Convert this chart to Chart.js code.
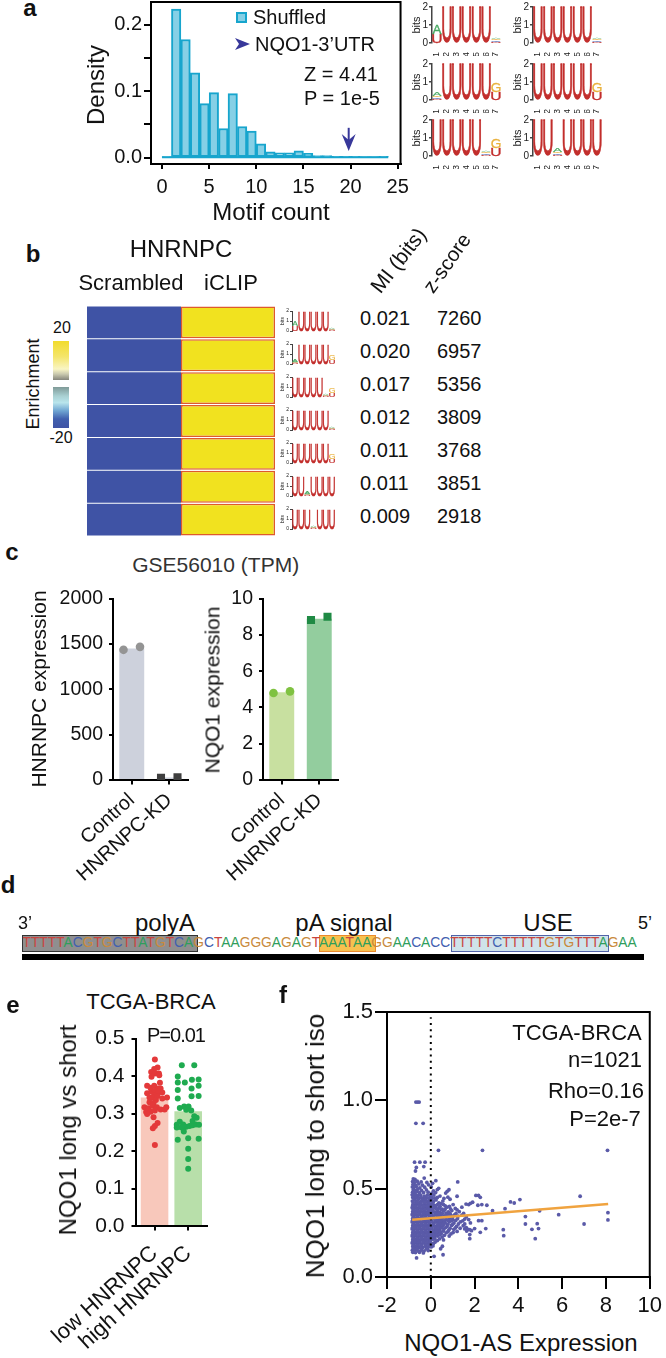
<!DOCTYPE html>
<html>
<head>
<meta charset="utf-8">
<title>NQO1 HNRNPC figure</title>
<script src="https://cdn.jsdelivr.net/npm/chart.js@4"></script>
<style>
  html, body { margin: 0; background: #fff; }
  #fig { position: relative; width: 666px; height: 1358px; overflow: hidden; font-family: "Liberation Sans", Arial, sans-serif; color: #111; }
  #fig canvas { position: absolute; }
  #fig div, #fig svg { position: absolute; }
  .t { white-space: nowrap; line-height: 1; }
</style>
</head>
<body>
<div id="fig"></div>
<script>
// ---- panel a: shuffled motif counts
const motifBins = [0.5, 1.5, 2.5, 3.5, 4.5, 5.5, 6.5, 7.5, 8.5, 9.5, 10.5, 11.5, 12.5, 13.5, 14.5, 15.5, 16.5, 17.5, 18.5, 19.5, 20.5, 21.5, 22.5, 23.5];
const motifDensity = [0.0005, 0.224, 0.178, 0.128, 0.0815, 0.098, 0.044, 0.0966, 0.047, 0.04, 0.021, 0.009, 0.0075, 0.0075, 0.0105, 0.0065, 0.003, 0.003, 0.002, 0.002, 0.002, 0.0007, 0.0007, 0.002];
const motifBaseline = [[0, 0.0005], [24, 0.0005]];
const motifXTicks = [0, 5, 10, 15, 20, 25];
const motifYTicks = [0, 0.05, 0.1, 0.15, 0.2];
const motifYLabels = ["0.0", "", "0.1", "", "0.2"];
const nqo1MotifCount = 19.8;

// ---- sequence logos (letter, bits), bottom to top
const uu = [["U", 1.95]];
const low = [["U", 0.07], ["C", 0.07], ["G", 0.07], ["A", 0.08]];
const lowGreen = [["U", 0.07], ["C", 0.07], ["G", 0.08], ["A", 0.2]];
const ua = [["U", 0.52], ["A", 0.5]];
const ug = [["U", 0.42], ["G", 0.5]];
const logoPositions = ["1", "2", "3", "4", "5", "6", "7"];
const motif1 = [ua, uu, uu, uu, uu, uu, low];
const motif2 = [lowGreen, uu, uu, uu, uu, uu, ug];
const motif3 = [uu, uu, uu, uu, uu, low, ug];
const motif4 = [uu, uu, uu, uu, uu, uu, low];
const motif5 = [uu, uu, uu, uu, uu, uu, ug];
const motif6 = [uu, uu, lowGreen, uu, uu, uu, uu];
const motif7 = [uu, uu, uu, low, uu, uu, uu];

// ---- panel b: heatmap
const heatRows = ["motif1", "motif2", "motif3", "motif4", "motif5", "motif6", "motif7"];
const enrichScrambled = [-20, -20, -20, -20, -20, -20, -20];
const enrichIclip = [20, 20, 20, 20, 20, 20, 20];
const miBits = ["0.021", "0.020", "0.017", "0.012", "0.011", "0.011", "0.009"];
const zScores = ["7260", "6957", "5356", "3809", "3768", "3851", "2918"];

// ---- panel c: GSE56010
const kdGroups = ["Control", "HNRNPC-KD"];
const replicateX = [-0.22, 0.22];
const hnrnpcMeans = [1450, 28];
const hnrnpcControl = [1436, 1469];
const hnrnpcKd = [25, 30];
const hnrnpcTicks = [0, 500, 1000, 1500, 2000];
const nqo1Means = [4.84, 8.9];
const nqo1Control = [4.8, 4.89];
const nqo1Kd = [8.82, 9.0];
const nqo1Ticks = [0, 2, 4, 6, 8, 10];

// ---- panel d: 3'UTR sequence
const seqPolyA = "TTTTTACGTGCTTATGTCA";
const seqLinker1 = "GCTAAGGGAGAGT";
const seqSignal = "AAATAA";
const seqLinker2 = "GGAACACC";
const seqUse = "TTTTTCTTTTTGTGTTT";
const seqTail = "AGAA";

// ---- panel e: TCGA-BRCA long vs short
const brcaGroups = ["low HNRNPC", "high HNRNPC"];
const brcaMeans = [0.343, 0.306];
const brcaTicks = [0, 0.1, 0.2, 0.3, 0.4, 0.5];
const lowValues = [0.444, 0.423, 0.419, 0.411, 0.407, 0.407, 0.398, 0.402, 0.382, 0.374, 0.369, 0.374, 0.367, 0.367, 0.354, 0.358, 0.361, 0.356, 0.356, 0.349, 0.343, 0.343, 0.347, 0.34, 0.343, 0.336, 0.33, 0.328, 0.317, 0.314, 0.321, 0.317, 0.311, 0.311, 0.317, 0.304, 0.305, 0.308, 0.299, 0.29, 0.275, 0.267, 0.261, 0.216];
const lowSwarm = [0.01, 0.09, -0.01, -0.1, 0.01, 0.13, -0.09, 0.14, 0.16, -0.22, -0.12, -0.01, 0.1, 0.18, -0.22, -0.1, 0.01, 0.23, 0.1, -0.01, -0.15, -0.06, 0.09, 0.23, 0.37, 0.04, -0.15, -0.03, -0.3, -0.18, -0.06, 0.07, 0.18, 0.3, 0.35, -0.25, -0.12, 0.01, -0.22, -0.03, 0.09, 0.01, -0.05, 0.01];
const highValues = [0.429, 0.429, 0.399, 0.383, 0.383, 0.39, 0.391, 0.363, 0.367, 0.374, 0.34, 0.346, 0.347, 0.319, 0.319, 0.315, 0.31, 0.308, 0.293, 0.289, 0.278, 0.27, 0.271, 0.265, 0.267, 0.269, 0.271, 0.27, 0.263, 0.263, 0.28, 0.252, 0.23, 0.234, 0.233, 0.206, 0.179, 0.153];
const highSwarm = [-0.19, 0.18, -0.31, -0.31, -0.1, 0.11, 0.31, -0.31, 0.1, 0.31, -0.31, 0.1, 0.31, -0.12, 0.01, -0.25, -0.06, 0.09, 0.18, 0.25, -0.25, -0.34, -0.15, -0.06, 0.04, 0.13, 0.23, 0.32, -0.2, -0.34, 0.13, -0.13, -0.31, 0, 0.31, 0, 0, 0];

// ---- panel f: NQO1-AS expression vs long/short ratio, read point by point
const isoXTicks = [-2, 0, 2, 4, 6, 8, 10];
const isoYTicks = [0, 0.5, 1, 1.5];
const isoFit = [[-0.85, 0.3245], [8.1, 0.413]];
const isoZero = [[0, 0], [0, 1.47]];
const isoOutliers = [[-0.68, 0.99], [-0.53, 0.99], [-0.6, 0.99], [-0.68, 0.87], [-0.35, 0.87], [0.35, 0.717], [2.36, 0.717], [8.07, 0.717], [-0.74, 0.65], [-0.5, 0.65], [-0.26, 0.65], [-0.66, 0.62], [-0.32, 0.625], [-0.7, 0.6], [1.23, 0.538], [0.23, 0.545], [6.82, 0.457], [4.07, 0.438], [3.64, 0.425], [3.81, 0.419], [2.18, 0.462], [2.06, 0.462], [2.26, 0.451], [3.39, 0.387], [2.82, 0.375], [2.56, 0.406], [2.33, 0.41], [2.15, 0.406], [1.91, 0.423], [1.73, 0.41], [1.61, 0.413], [1.81, 0.417], [1.2, 0.457], [0.83, 0.494], [0.68, 0.475], [0.75, 0.485], [8.09, 0.364], [8.09, 0.323], [5.84, 0.353], [7.0, 0.3], [4.97, 0.375], [4.32, 0.342], [4.32, 0.3], [4.86, 0.302], [4.92, 0.274], [4.62, 0.27], [4.77, 0.217], [3.31, 0.268], [3.33, 0.234], [2.51, 0.274], [2.26, 0.253], [1.78, 0.217], [1.78, 0.24], [2.0, 0.274], [2.18, 0.319], [2.33, 0.319], [1.73, 0.325], [1.81, 0.306], [0.56, 0.126], [0.15, 0.117], [-0.65, 0.108], [0.53, 0.174], [0.45, 0.16]];
const isoTop = [[-0.8, 0.555], [-0.72, 0.552], [-0.3, 0.56], [-0.83, 0.54], [-0.76, 0.536], [-0.62, 0.542], [-0.44, 0.538], [-0.18, 0.535], [0.08, 0.53], [-0.81, 0.525], [-0.7, 0.522], [-0.55, 0.527], [-0.38, 0.52], [-0.1, 0.522], [-0.84, 0.51], [-0.78, 0.506], [-0.66, 0.512], [-0.5, 0.505], [-0.28, 0.508], [0.02, 0.51], [0.36, 0.502], [-0.8, 0.495], [-0.72, 0.49], [-0.6, 0.496], [-0.42, 0.49], [-0.2, 0.493], [0.12, 0.488], [0.3, 0.495], [-0.83, 0.48], [-0.76, 0.476], [-0.64, 0.482], [-0.52, 0.477], [-0.33, 0.478], [-0.12, 0.48], [0.05, 0.474], [0.22, 0.478], [-0.85, 0.465], [-0.79, 0.46], [-0.7, 0.466], [-0.58, 0.46], [-0.46, 0.464], [-0.3, 0.458], [-0.16, 0.463], [-0.02, 0.46], [0.14, 0.464], [0.42, 0.458], [-0.82, 0.45], [-0.74, 0.446], [-0.66, 0.452], [-0.56, 0.447], [-0.44, 0.45], [-0.36, 0.444], [-0.24, 0.449], [-0.1, 0.446], [0.04, 0.45], [0.18, 0.446], [0.3, 0.45], [0.6, 0.445], [0.78, 0.452]];
const isoCore = [[-0.84, 0.43], [-0.76, 0.436], [-0.67, 0.428], [-0.58, 0.44], [-0.49, 0.425], [-0.41, 0.434], [-0.33, 0.43], [-0.24, 0.438], [-0.15, 0.426], [-0.06, 0.432], [0.03, 0.44], [0.12, 0.428], [0.24, 0.436], [0.37, 0.42], [0.55, 0.43], [0.88, 0.44],
  [-0.81, 0.412], [-0.73, 0.405], [-0.64, 0.415], [-0.55, 0.408], [-0.46, 0.414], [-0.37, 0.404], [-0.28, 0.412], [-0.19, 0.406], [-0.1, 0.416], [-0.01, 0.408], [0.08, 0.414], [0.18, 0.404], [0.3, 0.41], [0.46, 0.415], [0.66, 0.402], [1.02, 0.41],
  [-0.85, 0.392], [-0.77, 0.386], [-0.68, 0.395], [-0.6, 0.388], [-0.5, 0.393], [-0.42, 0.385], [-0.32, 0.39], [-0.23, 0.396], [-0.14, 0.386], [-0.05, 0.392], [0.05, 0.387], [0.14, 0.394], [0.25, 0.388], [0.38, 0.392], [0.52, 0.384], [0.74, 0.395], [1.12, 0.388],
  [-0.82, 0.372], [-0.74, 0.368], [-0.65, 0.375], [-0.56, 0.366], [-0.47, 0.373], [-0.38, 0.367], [-0.29, 0.374], [-0.2, 0.366], [-0.11, 0.372], [-0.02, 0.368], [0.07, 0.375], [0.17, 0.367], [0.28, 0.372], [0.41, 0.366], [0.57, 0.374], [0.8, 0.368], [0.96, 0.376], [1.3, 0.37],
  [-0.85, 0.352], [-0.78, 0.348], [-0.69, 0.354], [-0.6, 0.347], [-0.51, 0.353], [-0.42, 0.346], [-0.33, 0.352], [-0.24, 0.348], [-0.15, 0.354], [-0.06, 0.347], [0.03, 0.352], [0.13, 0.346], [0.23, 0.353], [0.34, 0.348], [0.47, 0.352], [0.62, 0.346], [0.75, 0.354], [0.92, 0.348], [1.08, 0.352], [1.42, 0.35],
  [-0.82, 0.332], [-0.74, 0.328], [-0.65, 0.334], [-0.56, 0.327], [-0.47, 0.332], [-0.38, 0.328], [-0.29, 0.334], [-0.2, 0.327], [-0.11, 0.332], [-0.02, 0.328], [0.08, 0.334], [0.18, 0.327], [0.28, 0.332], [0.4, 0.328], [0.54, 0.333], [0.7, 0.326], [0.86, 0.332], [1.0, 0.326], [1.22, 0.33], [1.55, 0.328],
  [-0.85, 0.312], [-0.77, 0.308], [-0.68, 0.314], [-0.59, 0.307], [-0.5, 0.312], [-0.41, 0.308], [-0.32, 0.314], [-0.23, 0.307], [-0.14, 0.312], [-0.05, 0.308], [0.05, 0.314], [0.15, 0.306], [0.26, 0.312], [0.37, 0.307], [0.5, 0.313], [0.66, 0.306], [0.84, 0.312], [1.06, 0.306], [1.35, 0.312],
  [-0.82, 0.292], [-0.74, 0.288], [-0.65, 0.294], [-0.56, 0.287], [-0.47, 0.292], [-0.38, 0.288], [-0.29, 0.294], [-0.2, 0.287], [-0.11, 0.292], [-0.02, 0.288], [0.08, 0.294], [0.18, 0.286], [0.29, 0.292], [0.42, 0.287], [0.56, 0.293], [0.74, 0.286], [0.95, 0.292], [1.18, 0.286], [1.48, 0.29], [1.62, 0.28],
  [-0.85, 0.272], [-0.77, 0.268], [-0.68, 0.274], [-0.59, 0.267], [-0.5, 0.272], [-0.41, 0.268], [-0.32, 0.274], [-0.23, 0.267], [-0.14, 0.272], [-0.05, 0.268], [0.05, 0.274], [0.15, 0.266], [0.27, 0.272], [0.4, 0.266], [0.6, 0.272], [0.82, 0.265], [1.05, 0.27], [1.7, 0.27], [1.64, 0.26], [1.86, 0.262],
  [-0.82, 0.252], [-0.74, 0.248], [-0.65, 0.254], [-0.56, 0.247], [-0.47, 0.252], [-0.38, 0.248], [-0.29, 0.254], [-0.2, 0.247], [-0.11, 0.252], [-0.02, 0.248], [0.09, 0.254], [0.2, 0.246], [0.33, 0.252], [0.48, 0.246], [0.7, 0.25], [0.92, 0.244],
  [-0.85, 0.232], [-0.77, 0.228], [-0.68, 0.234], [-0.59, 0.227], [-0.5, 0.232], [-0.41, 0.228], [-0.32, 0.234], [-0.23, 0.227], [-0.14, 0.232], [-0.05, 0.228], [0.06, 0.234], [0.18, 0.226], [0.32, 0.232], [0.52, 0.226],
  [-0.82, 0.212], [-0.74, 0.208], [-0.65, 0.214], [-0.56, 0.207], [-0.47, 0.212], [-0.38, 0.208], [-0.29, 0.214], [-0.2, 0.207], [-0.11, 0.212], [-0.02, 0.208], [0.1, 0.214], [0.3, 0.206],
  [-0.85, 0.192], [-0.77, 0.188], [-0.68, 0.194], [-0.59, 0.187], [-0.5, 0.192], [-0.41, 0.188], [-0.32, 0.194], [-0.23, 0.187], [-0.14, 0.192], [-0.03, 0.186], [0.12, 0.19],
  [-0.82, 0.172], [-0.74, 0.168], [-0.65, 0.174], [-0.56, 0.167], [-0.47, 0.172], [-0.36, 0.168], [-0.24, 0.174], [-0.12, 0.168], [0.02, 0.17],
  [-0.84, 0.152], [-0.76, 0.148], [-0.66, 0.153], [-0.55, 0.147], [-0.43, 0.152], [-0.3, 0.148], [-0.12, 0.15]];
const isoFill = [[-0.8, 0.42], [-0.62, 0.423], [-0.44, 0.42], [-0.26, 0.421], [-0.08, 0.42], [0.1, 0.422], [-0.83, 0.402], [-0.7, 0.4], [-0.52, 0.402], [-0.33, 0.4], [-0.16, 0.401], [0.02, 0.4], [0.23, 0.402], [0.42, 0.4], [0.58, 0.41], [0.85, 0.4],
  [-0.8, 0.382], [-0.62, 0.378], [-0.45, 0.38], [-0.26, 0.381], [-0.08, 0.38], [0.1, 0.381], [0.31, 0.38], [0.47, 0.382], [0.65, 0.382], [0.9, 0.386], [1.2, 0.38], [1.42, 0.395],
  [-0.83, 0.36], [-0.71, 0.361], [-0.53, 0.36], [-0.34, 0.36], [-0.16, 0.361], [0.03, 0.36], [0.22, 0.362], [0.36, 0.36], [0.52, 0.36], [0.69, 0.362], [0.88, 0.36], [1.15, 0.36], [1.5, 0.36],
  [-0.8, 0.34], [-0.62, 0.34], [-0.43, 0.34], [-0.25, 0.34], [-0.07, 0.341], [0.11, 0.34], [0.29, 0.34], [0.44, 0.34], [0.58, 0.34], [0.82, 0.34], [1.0, 0.342], [1.25, 0.345], [1.62, 0.34],
  [-0.83, 0.32], [-0.71, 0.32], [-0.53, 0.321], [-0.34, 0.32], [-0.16, 0.32], [0.02, 0.32], [0.22, 0.32], [0.33, 0.322], [0.46, 0.32], [0.62, 0.318], [0.78, 0.32], [0.94, 0.318], [1.14, 0.32], [1.46, 0.318],
  [-0.8, 0.3], [-0.62, 0.3], [-0.43, 0.3], [-0.25, 0.301], [-0.07, 0.3], [0.12, 0.3], [0.33, 0.3], [0.46, 0.3], [0.6, 0.302], [0.78, 0.298], [1.0, 0.298], [1.26, 0.3], [1.55, 0.3],
  [-0.83, 0.28], [-0.71, 0.28], [-0.53, 0.28], [-0.34, 0.281], [-0.16, 0.28], [0.02, 0.28], [0.22, 0.28], [0.35, 0.28], [0.5, 0.278], [0.68, 0.28], [0.88, 0.276], [1.12, 0.278], [1.34, 0.276], [1.55, 0.272], [1.78, 0.268],
  [-0.8, 0.26], [-0.62, 0.26], [-0.43, 0.26], [-0.25, 0.26], [-0.07, 0.26], [0.11, 0.26], [0.27, 0.258], [0.43, 0.258], [0.58, 0.26], [0.78, 0.256], [1.02, 0.252], [1.2, 0.258],
  [-0.83, 0.24], [-0.71, 0.24], [-0.53, 0.24], [-0.34, 0.241], [-0.16, 0.24], [0.02, 0.24], [0.14, 0.238], [0.26, 0.24], [0.42, 0.238], [0.62, 0.236], [0.84, 0.232],
  [-0.8, 0.22], [-0.62, 0.22], [-0.43, 0.22], [-0.25, 0.22], [-0.07, 0.22], [0.04, 0.222], [0.18, 0.218], [0.4, 0.216], [0.58, 0.21],
  [-0.83, 0.2], [-0.71, 0.2], [-0.53, 0.2], [-0.34, 0.2], [-0.16, 0.2], [-0.02, 0.2], [0.2, 0.198],
  [-0.8, 0.18], [-0.62, 0.18], [-0.43, 0.18], [-0.25, 0.182], [-0.08, 0.18], [0.1, 0.176],
  [-0.8, 0.16], [-0.62, 0.16], [-0.43, 0.162], [-0.2, 0.16], [-0.82, 0.14], [-0.7, 0.138], [-0.52, 0.14], [-0.34, 0.136]];

// ---- helpers
const fig = document.getElementById("fig");
const fontFamily = '"Liberation Sans", Arial, sans-serif';
Chart.defaults.font.family = fontFamily;
Chart.defaults.color = "#111";
Chart.defaults.animation = false;

const label = (str, x, y, size, opts = {}) => {
  const el = document.createElement("div");
  el.className = "t";
  el.textContent = str;
  const shift = opts.anchor === "left" ? "0" : "-50%";
  el.style.cssText = `left:${x}px;top:${y}px;font-size:${size}px;font-weight:${opts.weight || "normal"};color:${opts.color || "#111"};letter-spacing:${opts.spacing || 0}px;transform:translate(${shift},-50%) rotate(${opts.rot || 0}deg);`;
  fig.appendChild(el);
  return el;
};

const rect = (x, y, w, h, style) => {
  const el = document.createElement("div");
  el.style.cssText = `left:${x}px;top:${y}px;width:${w}px;height:${h}px;box-sizing:border-box;${style}`;
  fig.appendChild(el);
};

// makes a canvas so the plot area lands exactly on the box l/t/r/b
const panel = (box, m, config) => {
  const canvas = document.createElement("canvas");
  const w = Math.round(box.r - box.l + m.yw + m.pr);
  const h = Math.round(box.b - box.t + m.xh + m.pt);
  canvas.width = w;
  canvas.height = h;
  canvas.style.left = box.l - m.yw + "px";
  canvas.style.top = box.t - m.pt + "px";
  canvas.style.width = w + "px";
  canvas.style.height = h + "px";
  fig.appendChild(canvas);
  config.options.responsive = false;
  config.options.maintainAspectRatio = false;
  config.options.devicePixelRatio = 1;
  config.options.layout = { padding: { top: m.pt, right: m.pr, left: 0, bottom: 0 } };
  config.options.plugins = Object.assign({ legend: { display: false }, tooltip: { enabled: false } }, config.options.plugins);
  config.options.scales.x.afterFit = (s) => { s.height = m.xh; };
  config.options.scales.y.afterFit = (s) => { s.width = m.yw; };
  return new Chart(canvas, config);
};

const axis = (min, max, ticks, labels, size, tickLen, pad, extra = {}) => ({
  type: "linear",
  min,
  max,
  offset: false,
  border: { color: "#000", width: 2 },
  grid: { offset: false, drawOnChartArea: false, drawTicks: true, tickLength: tickLen, tickColor: "#000", lineWidth: 2 },
  ticks: Object.assign({ color: "#111", font: { size }, padding: pad, autoSkip: false, maxRotation: 0, callback: (v, i) => labels[i] }, extra),
  afterBuildTicks: (s) => { s.ticks = ticks.map((value) => ({ value })); },
});

const framePlugin = (width) => ({
  id: "frame",
  afterDraw: (chart) => {
    const { ctx, chartArea: a } = chart;
    ctx.save();
    ctx.strokeStyle = "#000";
    ctx.lineWidth = width;
    ctx.strokeRect(a.left, a.top, a.right - a.left, a.bottom - a.top);
    ctx.restore();
  },
});

const toXY = (xs, ys) => xs.map((x, i) => ({ x, y: ys[i] }));
const pairs = (list) => list.map(([x, y]) => ({ x, y }));

// ---- panel a
const arrowPlugin = {
  id: "arrowMark",
  afterDatasetsDraw: (chart) => {
    const { ctx, scales } = chart;
    const x = scales.x.getPixelForValue(nqo1MotifCount);
    const top = scales.y.getPixelForValue(0.045);
    const tip = scales.y.getPixelForValue(0.01);
    ctx.save();
    ctx.fillStyle = "#38389a";
    ctx.fillRect(x - 1, top, 2, tip - top - 6);
    ctx.beginPath();
    ctx.moveTo(x, tip);
    ctx.lineTo(x - 7, tip - 17);
    ctx.lineTo(x, tip - 11);
    ctx.lineTo(x + 7, tip - 17);
    ctx.closePath();
    ctx.fill();
    ctx.restore();
  },
};

panel({ l: 151, t: 1.5, r: 401, b: 163 }, { yw: 60, xh: 70, pt: 14, pr: 14 }, {
  type: "bar",
  data: {
    datasets: [
      { type: "scatter", data: pairs(motifBaseline), showLine: true, borderColor: "#17a5cd", borderWidth: 2, pointRadius: 0 },
      {
        label: "Shuffled",
        data: toXY(motifBins, motifDensity),
        backgroundColor: "#86d0e6",
        borderColor: "#17a5cd",
        borderWidth: 2,
        borderSkipped: false,
        barPercentage: 1,
        categoryPercentage: 1,
      },
    ],
  },
  options: {
    scales: {
      x: axis(-1.17, 25.3, motifXTicks, motifXTicks, 20, 5, 6),
      y: axis(-0.0095, 0.2345, motifYTicks, motifYLabels, 20, 7, 2),
    },
  },
  plugins: [framePlugin(2), arrowPlugin],
});
label("a", 30, 8, 24, { weight: "bold" });
label("Density", 96, 85, 24, { rot: -90 });
label("Motif count", 271, 212, 24);
rect(236, 12, 11, 11, "background:#86d0e6;border:2px solid #17a5cd;");
label("Shuffled", 253, 17, 20, { anchor: "left" });
label("NQO1-3’UTR", 255, 44, 20, { anchor: "left" });
label("Z = 4.41", 304, 74, 20, { anchor: "left" });
label("P = 1e-5", 304, 98, 20, { anchor: "left" });
const legendArrow = document.createElementNS("http://www.w3.org/2000/svg", "svg");
legendArrow.setAttribute("width", "15");
legendArrow.setAttribute("height", "12");
legendArrow.style.cssText = "left:235px;top:38px;";
legendArrow.innerHTML = '<polygon points="0,0 15,6 0,12 4,6" fill="#38389a"/>';
fig.appendChild(legendArrow);

// ---- logos
const letterColors = { U: "#c22e2c", A: "#45a860", G: "#e9b13c", C: "#5a70b8" };
const logoPlugin = {
  id: "logoLetters",
  afterDatasetsDraw: (chart) => {
    const { ctx, scales } = chart;
    const cols = chart.options.plugins.logoLetters.cols;
    const colW = scales.x.getPixelForValue(1) - scales.x.getPixelForValue(0);
    ctx.save();
    ctx.font = '100px "Liberation Sans"';
    ctx.textBaseline = "alphabetic";
    ctx.lineWidth = 2.5;
    cols.forEach((stack, c) => {
      const cx = scales.x.getPixelForValue(c);
      let bits = 0;
      stack.forEach(([letter, h]) => {
        const y0 = scales.y.getPixelForValue(bits);
        const y1 = scales.y.getPixelForValue(bits + h);
        const tm = ctx.measureText(letter);
        const gw = tm.actualBoundingBoxLeft + tm.actualBoundingBoxRight;
        const gh = tm.actualBoundingBoxAscent + tm.actualBoundingBoxDescent;
        ctx.save();
        ctx.translate(cx - colW * 0.46, y1);
        ctx.scale((colW * 0.92) / gw, (y0 - y1) / gh);
        ctx.fillStyle = letterColors[letter];
        ctx.strokeStyle = letterColors[letter];
        ctx.fillText(letter, tm.actualBoundingBoxLeft, tm.actualBoundingBoxAscent);
        ctx.strokeText(letter, tm.actualBoundingBoxLeft, tm.actualBoundingBoxAscent);
        ctx.restore();
        bits += h;
      });
    });
    ctx.restore();
  },
};

const logo = (cols, box, m, f) => panel(box, m, {
  type: "bar",
  data: {
    labels: logoPositions,
    datasets: [{ data: cols.map((stack) => stack.reduce((s, l) => s + l[1], 0)), backgroundColor: "rgba(0,0,0,0)" }],
  },
  options: {
    plugins: { logoLetters: { cols } },
    scales: {
      x: {
        type: "category",
        border: { display: false },
        grid: { display: false },
        ticks: { font: { size: f.x }, color: "#222", padding: f.xPad, autoSkip: false, minRotation: 90, maxRotation: 90 },
      },
      y: {
        min: 0,
        max: 2,
        border: { color: "#444", width: f.lw },
        grid: { drawOnChartArea: false, tickLength: f.tick, tickColor: "#444", lineWidth: f.lw },
        afterBuildTicks: (s) => { s.ticks = [0, 1, 2].map((value) => ({ value })); },
        ticks: { font: { size: f.y }, color: "#222", padding: 1 },
        title: { display: true, text: "bits", font: { size: f.bits }, color: "#222", padding: 0 },
      },
    },
  },
  plugins: [logoPlugin],
});

const bigLogos = [motif1, motif4, motif2, motif5, motif3, motif6];
const bigFonts = { x: 9, y: 10, bits: 11, tick: 3, lw: 1.5, xPad: 1 };
bigLogos.forEach((cols, i) => {
  const col = i % 2;
  const row = Math.floor(i / 2);
  const l = col === 0 ? 431.5 : 532.5;
  const t = [6, 62.5, 118.5][row];
  logo(cols, { l, t, r: l + 71.5, b: t + 36.7 }, { yw: 22, xh: 13, pt: 6, pr: 4 }, bigFonts);
});

const smallLogos = [motif1, motif2, motif3, motif4, motif5, motif6, motif7];
const smallFonts = { x: 4, y: 5, bits: 5, tick: 2, lw: 1, xPad: 0 };
smallLogos.forEach((cols, i) => {
  const t = 310.3 + i * 32.9;
  logo(cols, { l: 292, t, r: 335, b: t + 21.4 }, { yw: 12, xh: 6, pt: 3, pr: 2 }, smallFonts);
});

// ---- panel b
const enrichColor = (v) => (v > 0 ? "#f1e21f" : "#3f53a5");
panel({ l: 87, t: 305.5, r: 275, b: 535 }, { yw: 0, xh: 0, pt: 0, pr: 0 }, {
  type: "bar",
  data: {
    labels: heatRows,
    datasets: [
      {
        label: "Scrambled",
        data: enrichScrambled.map(() => [0, 1]),
        backgroundColor: enrichScrambled.map(enrichColor),
        grouped: false,
        barPercentage: 1,
        categoryPercentage: 0.97,
      },
      {
        label: "iCLIP",
        data: enrichIclip.map(() => [1, 2]),
        backgroundColor: enrichIclip.map(enrichColor),
        borderColor: "#de5a2c",
        borderWidth: 1.5,
        borderSkipped: false,
        grouped: false,
        barPercentage: 1,
        categoryPercentage: 0.97,
      },
    ],
  },
  options: {
    indexAxis: "y",
    scales: {
      x: { type: "linear", min: 0, max: 2, display: false },
      y: { type: "category", display: false },
    },
  },
});
label("b", 33, 254, 24, { weight: "bold" });
label("HNRNPC", 181, 249, 24);
label("Scrambled", 131, 283, 22);
label("iCLIP", 231, 283, 22);
label("MI (bits)", 398, 260, 21, { rot: -52 });
label("z-score", 447, 263, 20.5, { rot: -55 });
label("Enrichment", 33, 384, 18, { rot: -90 });
label("20", 62, 328, 16);
label("-20", 61, 438, 16);
rect(53, 341, 16, 39, "background:linear-gradient(#f2dc2c 0%,#f4e56a 40%,#f9f5c4 72%,#c9c8ae 85%,#85857c 100%);");
rect(53, 387, 16, 41, "background:linear-gradient(#7f9a98 0%,#a9d0d2 22%,#b9e5ec 38%,#6fa5d2 58%,#4160ae 78%,#3f53a5 100%);");
miBits.forEach((v, i) => label(v, 360, 318 + i * 33, 20, { anchor: "left" }));
zScores.forEach((v, i) => label(v, 437, 318 + i * 33, 20, { anchor: "left" }));

// ---- panel c
const groupedBars = (box, groups, means, ptsA, ptsB, xMin, xMax, yMax, yTicks, yLabels, barW, c, tickSize, labelSize, m) => panel(box, m, {
  type: "bar",
  data: {
    datasets: [
      { type: "scatter", data: toXY(ptsA.x, ptsA.y), backgroundColor: c.ptA, pointRadius: c.rA, pointStyle: "circle", borderWidth: 0 },
      { type: "scatter", data: toXY(ptsB.x, ptsB.y), backgroundColor: c.ptB, pointRadius: c.rB, pointStyle: c.styleB, borderWidth: 0 },
      { data: toXY([0, 1], means), backgroundColor: c.bars, barPercentage: barW, categoryPercentage: 1 },
    ],
  },
  options: {
    scales: {
      x: axis(xMin, xMax, [0, 1], groups, labelSize, 4.5, 4, { minRotation: 42, maxRotation: 42 }),
      y: axis(0, yMax, yTicks, yLabels, tickSize, 4, 6),
    },
  },
});

const cMargins = { yw: 80, xh: 120, pt: 16, pr: 8 };
groupedBars({ l: 112.7, t: 596.7, r: 188, b: 780 }, kdGroups, hnrnpcMeans,
  { x: replicateX, y: hnrnpcControl }, { x: replicateX.map((d) => 1 + d), y: hnrnpcKd },
  -0.5, 1.5, 2000, hnrnpcTicks, hnrnpcTicks, 0.665,
  { ptA: "#949494", ptB: "#3f3f3f", rA: 4.3, rB: 5.7, styleB: "rect", bars: ["#cdd1dc", "#cdd1dc"] }, 19.5, 20, cMargins);
groupedBars({ l: 262.7, t: 597.3, r: 338, b: 780.7 }, kdGroups, nqo1Means,
  { x: replicateX, y: nqo1Control }, { x: replicateX.map((d) => 1 + d), y: nqo1Kd },
  -0.5, 1.5, 10, nqo1Ticks, nqo1Ticks, 0.665,
  { ptA: "#7fc241", ptB: "#1f8a44", rA: 4.3, rB: 5.7, styleB: "rect", bars: ["#c8e0a0", "#93cd9e"] }, 19.5, 20, cMargins);
label("c", 12, 552, 24, { weight: "bold" });
label("GSE56010 (TPM)", 215.7, 564, 21, { color: "#333" });
label("HNRNPC expression", 38, 689, 21, { rot: -90 });
label("NQO1 expression", 212, 690, 21, { rot: -90 });

// ---- panel d
const seqColors = { T: "#c9453f", A: "#2f9e5c", C: "#4260b0", G: "#c98a3c" };
rect(22, 935, 176, 16.5, "background:#8f8f8f;border:1.5px solid #333;");
rect(319, 935, 57, 16.5, "background:#f8c14f;border:1.5px solid #ea8a2c;");
rect(451, 935, 158, 16.5, "background:#cfe3ea;border:1.5px solid #5263a8;");
rect(22, 954, 622, 6, "background:#000;");
const seqLine = document.createElement("div");
seqLine.className = "t";
seqLine.style.cssText = "left:22.5px;top:943px;transform:translateY(-50%);font-size:13.77px;";
[seqPolyA, seqLinker1, seqSignal, seqLinker2, seqUse, seqTail].join("").split("").forEach((ch) => {
  const s = document.createElement("span");
  s.textContent = ch;
  s.style.color = seqColors[ch];
  seqLine.appendChild(s);
});
fig.appendChild(seqLine);
label("d", 8, 885, 24, { weight: "bold" });
label("3’", 25, 923, 18);
label("polyA", 165, 923, 24);
label("pA signal", 344, 923, 24);
label("USE", 548, 923, 24);
label("5’", 645, 923, 18);

// ---- panel e
panel({ l: 136, t: 1035, r: 210, b: 1225.7 }, { yw: 125, xh: 130, pt: 16, pr: 8 }, {
  type: "bar",
  data: {
    datasets: [
      { type: "scatter", data: toXY(lowSwarm, lowValues), backgroundColor: "#e4393a", pointRadius: 3, borderWidth: 0 },
      { type: "scatter", data: toXY(highSwarm.map((d) => 1 + d), highValues), backgroundColor: "#1fab50", pointRadius: 3, borderWidth: 0 },
      { data: toXY([0, 1], brcaMeans), backgroundColor: ["#f8c8bb", "#b8dfaa"], barPercentage: 0.82, categoryPercentage: 1 },
    ],
  },
  options: {
    scales: {
      x: axis(-0.551, 1.563, [0, 1], brcaGroups, 22, 4.5, 10, { minRotation: 42, maxRotation: 42 }),
      y: axis(0, 0.5, brcaTicks, brcaTicks.map((v) => v.toFixed(1)), 21, 4.5, 7),
    },
  },
});
label("e", 13, 1005, 24, { weight: "bold" });
label("TCGA-BRCA", 151, 1002, 22);
label("P=0.01", 176, 1035, 20, { spacing: -1 });
label("NQO1 long vs short", 68, 1130, 24, { rot: -90 });

// ---- panel f
panel({ l: 387.3, t: 1012.3, r: 653.3, b: 1277.3 }, { yw: 60, xh: 40, pt: 16, pr: 12.7 }, {
  type: "scatter",
  data: {
    datasets: [
      { data: pairs(isoFit), showLine: true, borderColor: "#f0a33f", borderWidth: 2.5, pointRadius: 0 },
      { data: pairs(isoZero), showLine: true, borderColor: "#000", borderWidth: 2, borderDash: [2, 4.3], pointRadius: 0 },
      { data: pairs(isoOutliers.concat(isoTop, isoCore, isoFill)), backgroundColor: "#5a5aa8", pointRadius: 1.9, borderWidth: 0 },
    ],
  },
  options: {
    scales: {
      x: axis(-2, 10, isoXTicks, isoXTicks, 22, 12, 4),
      y: axis(0, 1.5, isoYTicks, isoYTicks.map((v) => v.toFixed(1)), 22, 12, 2),
    },
  },
  plugins: [framePlugin(2)],
});
label("f", 283, 995, 24, { weight: "bold" });
label("NQO1 long to short iso", 315, 1146, 26, { rot: -90 });
label("NQO1-AS Expression", 521, 1343, 24);
label("TCGA-BRCA", 577, 1033, 22);
label("n=1021", 605, 1060, 22);
label("Rho=0.16", 596, 1091, 22);
label("P=2e-7", 605, 1119, 22);
</script>
</body>
</html>
